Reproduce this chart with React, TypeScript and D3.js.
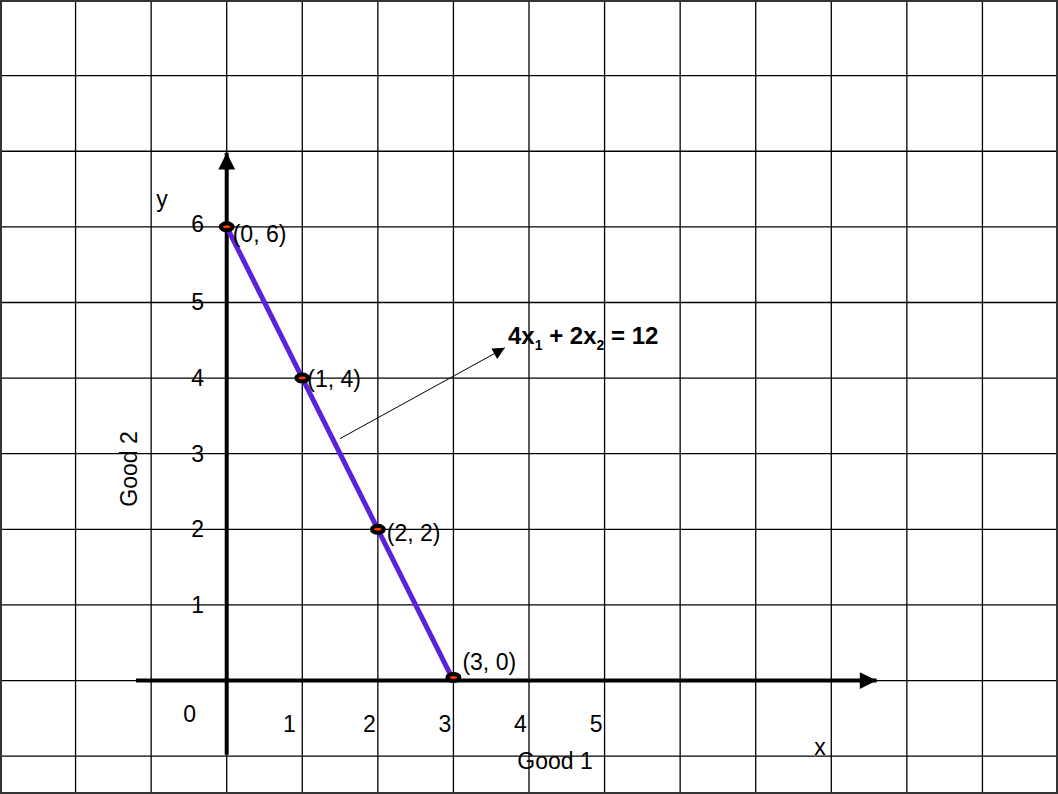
import React from "react";
import * as d3 from "d3";

const W = 1058;
const H = 794;
const gridX = [-3, -2, -1, 0, 1, 2, 3, 4, 5, 6, 7, 8, 9, 10, 11];
const gridY = [-1, 0, 1, 2, 3, 4, 5, 6, 7, 8, 9];
const xTicks = [1, 2, 3, 4, 5];
const yTicks = [1, 2, 3, 4, 5, 6];
const pts: [number, number][] = [[0, 6], [1, 4], [2, 2], [3, 0]];
const ptLabels = ["(0, 6)", "(1, 4)", "(2, 2)", "(3, 0)"];

export default function App() {
  const x = d3.scaleLinear().domain([-3, 11]).range([0, W]);
  const y = d3.scaleLinear().domain([-1.5, 9]).range([H, 0]);
  const line = d3.line<[number, number]>().x(d => x(d[0])).y(d => y(d[1]));
  const font = "'Liberation Sans', Arial, sans-serif";
  const labelOff: [number, number][] = [[6, 15], [5, 9], [9, 12], [9, -11]];
  const ax = x(0), ay = y(0);
  const fs = 23;
  return (
    <svg width={W} height={H} style={{ position: "absolute", left: 0, top: 0, background: "#fff" }} fontFamily={font}>
      <defs>
        <marker id="big" viewBox="0 0 10 10" refX="10" refY="5" markerWidth="6.5" markerHeight="4.2" markerUnits="strokeWidth" orient="auto">
          <path d="M0,0 L10,5 L0,10 z" fill="#000" />
        </marker>
        <marker id="small" viewBox="0 0 10 10" refX="10" refY="5" markerWidth="16" markerHeight="12" markerUnits="userSpaceOnUse" orient="auto">
          <path d="M0,0 L10,5 L0,10 z" fill="#000" />
        </marker>
      </defs>
      <rect x={0} y={0} width={W} height={H} fill="#fff" />
      {gridX.map(v => (
        <line key={"gx" + v} x1={x(v)} x2={x(v)} y1={0} y2={H} stroke="#000" strokeWidth={1.3} />
      ))}
      {gridY.map(v => (
        <line key={"gy" + v} x1={0} x2={W} y1={y(v)} y2={y(v)} stroke="#000" strokeWidth={1.3} />
      ))}
      {/* axes */}
      <line x1={x(-1.2)} x2={x(8.6)} y1={ay} y2={ay} stroke="#000" strokeWidth={4} markerEnd="url(#big)" />
      <line x1={ax} x2={ax} y1={y(-0.98)} y2={y(6.98)} stroke="#000" strokeWidth={4} markerEnd="url(#big)" />
      {/* budget line */}
      <path d={line(pts) || ""} fill="none" stroke="#5a22e0" strokeWidth={5} />
      {pts.map((p, i) => (
        <g key={"p" + i}>
          <ellipse cx={x(p[0])} cy={y(p[1]) - (p[1] === 0 ? 3 : 0)} rx={6} ry={3.5} fill="#ff3a00" stroke="#000" strokeWidth={4} />
          <text x={x(p[0]) + labelOff[i][0]} y={y(p[1]) + labelOff[i][1]} fontSize={fs} fill="#000">{ptLabels[i]}</text>
        </g>
      ))}
      {/* tick labels */}
      {yTicks.map(v => (
        <text key={"yt" + v} x={ax - 29} y={y(v) + (v === 6 ? 5 : 8)} fontSize={fs} textAnchor="middle" fill="#000">{v}</text>
      ))}
      {xTicks.map((v, i) => (
        <text key={"xt" + v} x={x(v) + (i === 0 ? -13 : -8.5)} y={ay + 51} fontSize={fs} textAnchor="middle" fill="#000">{v}</text>
      ))}
      <text x={ax - 37} y={ay + 41} fontSize={fs} textAnchor="middle" fill="#000">0</text>
      <text x={162} y={207} fontSize={fs} textAnchor="middle" fill="#000">y</text>
      <text x={820} y={755} fontSize={fs} textAnchor="middle" fill="#000">x</text>
      <text x={555} y={769} fontSize={fs} textAnchor="middle" fill="#000">Good 1</text>
      <text transform={`translate(137,469) rotate(-90)`} fontSize={fs} textAnchor="middle" fill="#000">Good 2</text>
      {/* annotation */}
      <line x1={x(1.5)} y1={y(3.2)} x2={x(3.68)} y2={y(4.4)} stroke="#000" strokeWidth={1} markerEnd="url(#small)" />
      <text x={508} y={344} fontSize={24} fontWeight="bold" fill="#000">
        4x<tspan fontSize={14} dy={6}>1</tspan><tspan dy={-6}> + 2x</tspan><tspan fontSize={14} dy={6}>2</tspan><tspan dy={-6}> = 12</tspan>
      </text>
      <rect x={1} y={1} width={W - 2} height={H - 2} fill="none" stroke="#333" strokeWidth={2} />
    </svg>
  );
}
